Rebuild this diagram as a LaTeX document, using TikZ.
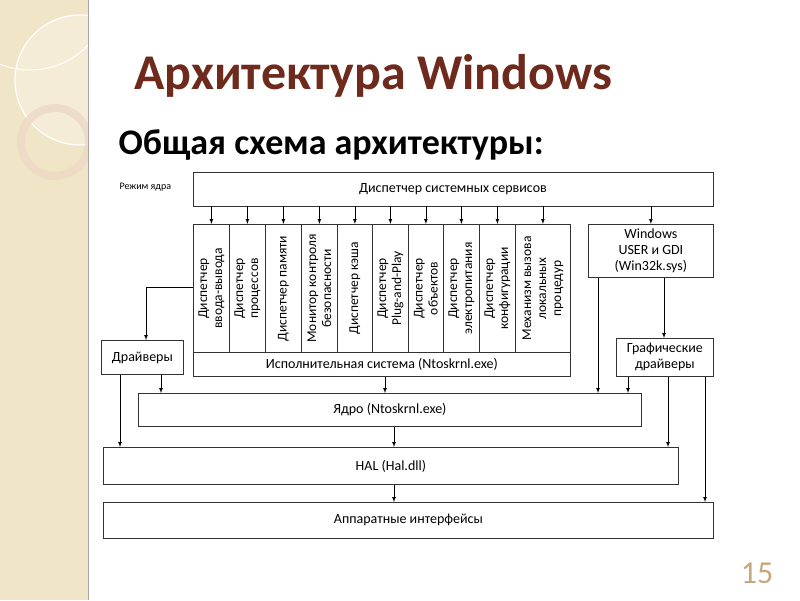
\documentclass[tikz,border=0pt]{standalone}
\usepackage{fontspec}
\setmainfont{Carlito}
\definecolor{band}{HTML}{F1E5C8}
\definecolor{ttl}{HTML}{6E2A1C}
\definecolor{numc}{HTML}{C9A77E}
\begin{document}
\begin{tikzpicture}[x=1pt,y=-1pt,
  bx/.style={draw=black!80,line width=0.8pt,fill=white,inner sep=0pt,align=center,font=\fontsize{14}{16}\selectfont},
  col/.style={draw=black!80,line width=0.8pt,minimum width=36pt,minimum height=128pt,inner sep=0pt},
  vt/.style={rotate=90,align=center,font=\fontsize{13.5}{15}\selectfont},
  ar/.style={-latex,line width=0.7pt},
  ln/.style={line width=0.7pt}]
\useasboundingbox (0,0) rectangle (800,600);
\fill[white] (0,0) rectangle (800,600);
% decorative band
\begin{scope}
\clip (0,0) rectangle (88,600);
\fill[band] (0,0) rectangle (88,600);
\fill[white,opacity=0.3] (80,80) circle (65);
\draw[white,line width=1.2pt] (80,80) circle (65);
\draw[white,line width=1pt] (30,-10) circle (80);
\draw[brown!30,line width=8pt,opacity=0.8] (55,142) circle (34);
\end{scope}
\draw[black!35,line width=1pt] (88,0) -- (88,600);
% titles
\node[anchor=west,text=ttl,font=\fontsize{50}{54}\selectfont\bfseries] (title) at (131,76) {Архитектура Windows};
\node[anchor=west,font=\fontsize{36}{40}\selectfont\bfseries] (sub) at (115,145) {Общая схема архитектуры:};
\node[anchor=west,font=\fontsize{10}{12}\selectfont] (mode) at (116,187) {Режим ядра};
\node[text=numc,font=\fontsize{32}{34}\selectfont] (num) at (757,573) {15};
% top box
\node[bx,minimum width=520pt,minimum height=34pt] (svc) at (453,189) {Диспетчер системных сервисов};
% columns
\foreach \i/\x/\w/\t in {1/193/36/{Диспетчер\\ввода-вывода},2/229/36/{Диспетчер\\процессов},3/265/36/{Диспетчер памяти},4/301/36/{Монитор контроля\\безопасности},5/337/35/{Диспетчер кэша},6/372/36/{Диспетчер\\Plug-and-Play},7/408/35/{Диспетчер\\объектов},8/443/36/{Диспетчер\\электропитания},9/479/36/{Диспетчер\\конфигурации},10/515/55/{Механизм вызова\\локальных\\процедур}}{
  \node[col,minimum width=\w pt,anchor=north west] (c\i) at (\x,224) {};
  \node[vt] (t\i) at (c\i.center) {\t};
  \draw[ar] (svc.south -| c\i.center) -- (c\i.north);
}
\node[bx,minimum width=377pt,minimum height=24pt,anchor=north west] (exec) at (193,352) {Исполнительная система (Ntoskrnl.exe)};
\node[bx,minimum width=125pt,minimum height=53pt,anchor=north west] (win) at (588,224) {Windows\\USER и GDI\\(Win32k.sys)};
\draw[ar] (svc.south -| win.center) -- (win.north);
\node[bx,minimum width=97pt,minimum height=38pt,anchor=north west] (gd) at (616,338) {Графические\\драйверы};
\node[bx,minimum width=82pt,minimum height=34pt,anchor=north west] (drv) at (101,340) {Драйверы};
\node[bx,minimum width=503pt,minimum height=33pt,anchor=north west] (krn) at (138,393) {Ядро (Ntoskrnl.exe)};
\node[bx,minimum width=575pt,minimum height=37pt,anchor=north west] (hal) at (103,447) {HAL (Hal.dll)};
\node[bx,minimum width=610pt,minimum height=36pt,anchor=north west] (hw) at (103,502) {Аппаратные интерфейсы};
% connectors
\coordinate (k1) at (146,287);
\draw[ar] (c1.west |- k1) -- (k1) -- (drv.north -| k1);
\draw[ar] (drv.south -| 120,0) -- (hal.north -| 120,0);
\draw[ar] (drv.south -| 161,0) -- (krn.north -| 161,0);
\draw[ar] (exec.south -| 385,0) -- (krn.north -| 385,0);
\draw[ar] (krn.south -| 394,0) -- (hal.north -| 394,0);
\draw[ar] (hal.south -| 394,0) -- (hw.north -| 394,0);
\draw[ar] (win.south -| 598,0) -- (krn.north -| 598,0);
\draw[ar] (win.south -| 664,0) -- (gd.north -| 664,0);
\draw[ar] (gd.south -| 628,0) -- (krn.north -| 628,0);
\draw[ar] (gd.south -| 668,0) -- (hal.north -| 668,0);
\draw[ar] (gd.south -| 705,0) -- (hw.north -| 705,0);
\end{tikzpicture}
\end{document}
